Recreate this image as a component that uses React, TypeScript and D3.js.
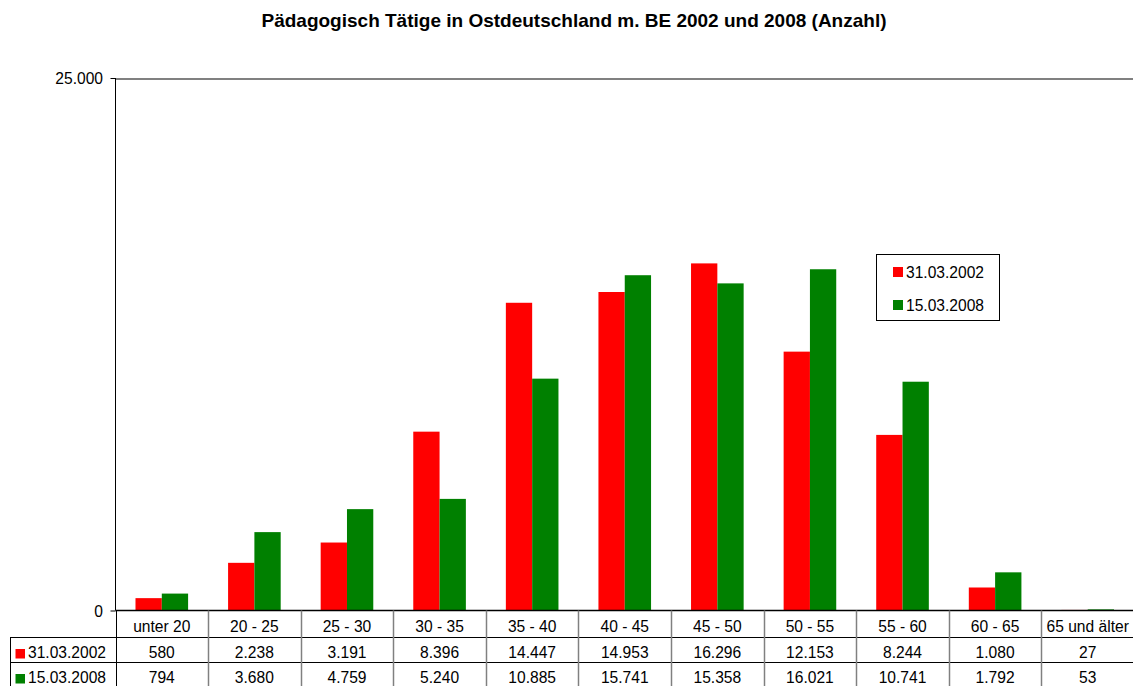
import React from "react";
import * as d3 from "d3";

const categories = ["unter 20", "20 - 25", "25 - 30", "30 - 35", "35 - 40", "40 - 45", "45 - 50", "50 - 55", "55 - 60", "60 - 65", "65 und älter"];
const seriesNames = ["31.03.2002", "15.03.2008"];
const values2002 = [580, 2238, 3191, 8396, 14447, 14953, 16296, 12153, 8244, 1080, 27];
const values2008 = [794, 3680, 4759, 5240, 10885, 15741, 15358, 16021, 10741, 1792, 53];
const colors = ["#FF0000", "#008000"];
const yTicks = [0, 25000];
const title = "Pädagogisch Tätige in Ostdeutschland m. BE 2002 und 2008 (Anzahl)";

const fmt = (v: number) => d3.format(",")(v).replace(/,/g, ".");

export default function App() {
  const W = 1133, H = 686;
  const left = 115.5, right = 1134, top = 78, bottom = 610.5;
  const font = "Liberation Sans, Arial, sans-serif";
  const fs = 15.6;
  const x = d3.scaleBand<string>().domain(categories).range([left, right]).paddingInner(0).paddingOuter(0);
  const inner = d3.scaleBand<string>().domain(seriesNames).range([0, x.bandwidth()]).paddingOuter(0.76).paddingInner(0);
  const y = d3.scaleLinear().domain([0, 25000]).range([bottom, top]);
  const series = [values2002, values2008];
  const rowTop = [bottom, 637, 662, 687];
  const tableLeft = 10.5;

  return (
    <svg width={W} height={H} style={{ position: "absolute", left: 0, top: 0, display: "block" }} fontFamily={font}>
      <rect width={W} height={H} fill="#fff" />
      <text x={574} y={27} textAnchor="middle" fontWeight="bold" fontSize={19} fill="#000">{title}</text>
      {/* gridline */}
      <line x1={left} x2={W} y1={y(25000) + 1} y2={y(25000) + 1} stroke="#808080" strokeWidth={2} />
      {/* bars */}
      {series.map((vals, si) =>
        vals.map((v, i) => (
          <rect key={si + "-" + i}
            x={(x(categories[i]) as number) + (inner(seriesNames[si]) as number)}
            y={y(v)}
            width={inner.bandwidth()}
            height={y(0) - y(v)}
            fill={colors[si]} />
        ))
      )}
      {/* y axis */}
      <line x1={left} x2={left} y1={top} y2={bottom} stroke="#000" />
      {yTicks.map((t) => (
        <g key={t}>
          <line x1={left - 5} x2={left} y1={y(t) + 0.5} y2={y(t) + 0.5} stroke="#000" />
          <text x={103} y={y(t) + 6} textAnchor="end" fontSize={fs} fill="#000">{fmt(t)}</text>
        </g>
      ))}
      {/* table */}
      <line x1={left} x2={W} y1={bottom} y2={bottom} stroke="#000" strokeWidth={1.5} />
      <line x1={tableLeft} x2={W} y1={rowTop[1] + 0.5} y2={rowTop[1] + 0.5} stroke="#000" />
      <line x1={tableLeft} x2={W} y1={rowTop[2] + 0.5} y2={rowTop[2] + 0.5} stroke="#000" />
      <line x1={tableLeft} x2={tableLeft} y1={rowTop[1]} y2={H} stroke="#000" />
      {categories.map((c, i) => (
        <line key={"v" + i} x1={Math.round(x(c) as number) + 0.5} x2={Math.round(x(c) as number) + 0.5} y1={bottom} y2={H}
          stroke={i === 0 ? "#000" : "#808080"} strokeWidth={i === 0 ? 1 : 1.5} />
      ))}
      {categories.map((c, i) => (
        <text key={"c" + i} x={(x(c) as number) + x.bandwidth() / 2} y={632} textAnchor="middle" fontSize={fs} fill="#000">{c}</text>
      ))}
      {series.map((vals, si) => (
        <g key={"row" + si}>
          <rect x={15.5} y={rowTop[si + 1] + 12} width={9.5} height={9.5} fill={colors[si]} />
          <text x={28} y={rowTop[si + 1] + 21} fontSize={fs} fill="#000">{seriesNames[si]}</text>
          {vals.map((v, i) => (
            <text key={i} x={(x(categories[i]) as number) + x.bandwidth() / 2} y={rowTop[si + 1] + 21} textAnchor="middle" fontSize={fs} fill="#000">{fmt(v)}</text>
          ))}
        </g>
      ))}
      {/* legend */}
      <rect x={876.5} y={254.5} width={123} height={66} fill="#fff" stroke="#000" />
      {seriesNames.map((s, si) => (
        <g key={"lg" + si}>
          <rect x={893} y={267 + si * 33} width={10} height={10} fill={colors[si]} />
          <text x={906} y={278 + si * 33} fontSize={fs} fill="#000">{s}</text>
        </g>
      ))}
    </svg>
  );
}
